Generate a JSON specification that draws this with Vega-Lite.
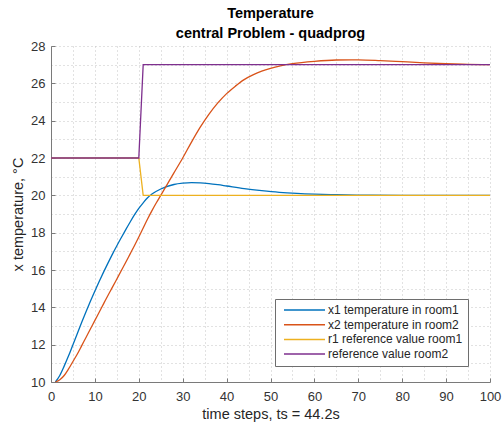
{
  "$schema": "https://vega.github.io/schema/vega-lite/v6.json",
  "width": 439,
  "height": 336,
  "autosize": {"type": "none"},
  "padding": {"left": 51, "top": 46, "right": 12, "bottom": 44},
  "background": "white",
  "config": {"view": {"stroke": null}, "font": "Liberation Sans"},
  "title": {
    "text": ["Temperature", "central Problem - quadprog"],
    "font": "Liberation Sans",
    "fontSize": 14.5,
    "fontWeight": "bold",
    "color": "#000000",
    "lineHeight": 19.5,
    "anchor": "middle",
    "frame": "group",
    "baseline": "bottom",
    "offset": -15
  },
  "data": {
    "values": [
      {"t": 1, "v": 10.0, "s": "x1 temperature in room1"},
      {"t": 2, "v": 10.35, "s": "x1 temperature in room1"},
      {"t": 3, "v": 10.85, "s": "x1 temperature in room1"},
      {"t": 4, "v": 11.4, "s": "x1 temperature in room1"},
      {"t": 5, "v": 12.0, "s": "x1 temperature in room1"},
      {"t": 6, "v": 12.6, "s": "x1 temperature in room1"},
      {"t": 7, "v": 13.2, "s": "x1 temperature in room1"},
      {"t": 8, "v": 13.78, "s": "x1 temperature in room1"},
      {"t": 9, "v": 14.34, "s": "x1 temperature in room1"},
      {"t": 10, "v": 14.88, "s": "x1 temperature in room1"},
      {"t": 11, "v": 15.4, "s": "x1 temperature in room1"},
      {"t": 12, "v": 15.9, "s": "x1 temperature in room1"},
      {"t": 13, "v": 16.38, "s": "x1 temperature in room1"},
      {"t": 14, "v": 16.85, "s": "x1 temperature in room1"},
      {"t": 15, "v": 17.3, "s": "x1 temperature in room1"},
      {"t": 16, "v": 17.73, "s": "x1 temperature in room1"},
      {"t": 17, "v": 18.15, "s": "x1 temperature in room1"},
      {"t": 18, "v": 18.56, "s": "x1 temperature in room1"},
      {"t": 19, "v": 18.95, "s": "x1 temperature in room1"},
      {"t": 20, "v": 19.3, "s": "x1 temperature in room1"},
      {"t": 21, "v": 19.6, "s": "x1 temperature in room1"},
      {"t": 22, "v": 19.87, "s": "x1 temperature in room1"},
      {"t": 23, "v": 20.07, "s": "x1 temperature in room1"},
      {"t": 24, "v": 20.22, "s": "x1 temperature in room1"},
      {"t": 25, "v": 20.34, "s": "x1 temperature in room1"},
      {"t": 26, "v": 20.44, "s": "x1 temperature in room1"},
      {"t": 28, "v": 20.58, "s": "x1 temperature in room1"},
      {"t": 30, "v": 20.65, "s": "x1 temperature in room1"},
      {"t": 32, "v": 20.68, "s": "x1 temperature in room1"},
      {"t": 34, "v": 20.67, "s": "x1 temperature in room1"},
      {"t": 36, "v": 20.63, "s": "x1 temperature in room1"},
      {"t": 38, "v": 20.57, "s": "x1 temperature in room1"},
      {"t": 40, "v": 20.5, "s": "x1 temperature in room1"},
      {"t": 44, "v": 20.36, "s": "x1 temperature in room1"},
      {"t": 48, "v": 20.25, "s": "x1 temperature in room1"},
      {"t": 52, "v": 20.16, "s": "x1 temperature in room1"},
      {"t": 56, "v": 20.1, "s": "x1 temperature in room1"},
      {"t": 60, "v": 20.06, "s": "x1 temperature in room1"},
      {"t": 65, "v": 20.03, "s": "x1 temperature in room1"},
      {"t": 70, "v": 20.01, "s": "x1 temperature in room1"},
      {"t": 80, "v": 20.0, "s": "x1 temperature in room1"},
      {"t": 90, "v": 20.0, "s": "x1 temperature in room1"},
      {"t": 100, "v": 20.0, "s": "x1 temperature in room1"},

      {"t": 1, "v": 10.0, "s": "x2 temperature in room2"},
      {"t": 2, "v": 10.12, "s": "x2 temperature in room2"},
      {"t": 3, "v": 10.35, "s": "x2 temperature in room2"},
      {"t": 4, "v": 10.7, "s": "x2 temperature in room2"},
      {"t": 5, "v": 11.1, "s": "x2 temperature in room2"},
      {"t": 6, "v": 11.5, "s": "x2 temperature in room2"},
      {"t": 7, "v": 11.95, "s": "x2 temperature in room2"},
      {"t": 8, "v": 12.4, "s": "x2 temperature in room2"},
      {"t": 9, "v": 12.85, "s": "x2 temperature in room2"},
      {"t": 10, "v": 13.3, "s": "x2 temperature in room2"},
      {"t": 11, "v": 13.75, "s": "x2 temperature in room2"},
      {"t": 12, "v": 14.2, "s": "x2 temperature in room2"},
      {"t": 13, "v": 14.65, "s": "x2 temperature in room2"},
      {"t": 14, "v": 15.08, "s": "x2 temperature in room2"},
      {"t": 15, "v": 15.52, "s": "x2 temperature in room2"},
      {"t": 16, "v": 15.96, "s": "x2 temperature in room2"},
      {"t": 17, "v": 16.4, "s": "x2 temperature in room2"},
      {"t": 18, "v": 16.85, "s": "x2 temperature in room2"},
      {"t": 19, "v": 17.3, "s": "x2 temperature in room2"},
      {"t": 20, "v": 17.77, "s": "x2 temperature in room2"},
      {"t": 21, "v": 18.25, "s": "x2 temperature in room2"},
      {"t": 22, "v": 18.73, "s": "x2 temperature in room2"},
      {"t": 23, "v": 19.18, "s": "x2 temperature in room2"},
      {"t": 24, "v": 19.6, "s": "x2 temperature in room2"},
      {"t": 25, "v": 20.0, "s": "x2 temperature in room2"},
      {"t": 26, "v": 20.4, "s": "x2 temperature in room2"},
      {"t": 27, "v": 20.8, "s": "x2 temperature in room2"},
      {"t": 28, "v": 21.2, "s": "x2 temperature in room2"},
      {"t": 30, "v": 22.0, "s": "x2 temperature in room2"},
      {"t": 32, "v": 22.85, "s": "x2 temperature in room2"},
      {"t": 34, "v": 23.65, "s": "x2 temperature in room2"},
      {"t": 36, "v": 24.35, "s": "x2 temperature in room2"},
      {"t": 38, "v": 24.95, "s": "x2 temperature in room2"},
      {"t": 40, "v": 25.45, "s": "x2 temperature in room2"},
      {"t": 42, "v": 25.85, "s": "x2 temperature in room2"},
      {"t": 44, "v": 26.2, "s": "x2 temperature in room2"},
      {"t": 46, "v": 26.45, "s": "x2 temperature in room2"},
      {"t": 48, "v": 26.65, "s": "x2 temperature in room2"},
      {"t": 50, "v": 26.8, "s": "x2 temperature in room2"},
      {"t": 55, "v": 27.05, "s": "x2 temperature in room2"},
      {"t": 60, "v": 27.18, "s": "x2 temperature in room2"},
      {"t": 65, "v": 27.25, "s": "x2 temperature in room2"},
      {"t": 70, "v": 27.26, "s": "x2 temperature in room2"},
      {"t": 75, "v": 27.22, "s": "x2 temperature in room2"},
      {"t": 80, "v": 27.16, "s": "x2 temperature in room2"},
      {"t": 85, "v": 27.1, "s": "x2 temperature in room2"},
      {"t": 90, "v": 27.05, "s": "x2 temperature in room2"},
      {"t": 95, "v": 27.02, "s": "x2 temperature in room2"},
      {"t": 100, "v": 27.0, "s": "x2 temperature in room2"},

      {"t": 0, "v": 22, "s": "r1 reference value room1"},
      {"t": 20, "v": 22, "s": "r1 reference value room1"},
      {"t": 21, "v": 20, "s": "r1 reference value room1"},
      {"t": 100, "v": 20, "s": "r1 reference value room1"},

      {"t": 0, "v": 22, "s": "reference value room2"},
      {"t": 20, "v": 22, "s": "reference value room2"},
      {"t": 21, "v": 27, "s": "reference value room2"},
      {"t": 100, "v": 27, "s": "reference value room2"}
    ]
  },
  "encoding": {
    "x": {
      "field": "t",
      "type": "quantitative",
      "scale": {"domain": [0, 100], "nice": false, "zero": false},
      "axis": {
        "values": [0, 5, 10, 15, 20, 25, 30, 35, 40, 45, 50, 55, 60, 65, 70, 75, 80, 85, 90, 95, 100],
        "labelExpr": "datum.value % 10 == 0 ? datum.label : ''",
        "tickOpacity": {"condition": {"test": "datum.value % 10 != 0", "value": 0}, "value": 1},
        "grid": true,
        "gridColor": "#c4c4c4",
        "gridDash": [1, 3],
        "gridWidth": 1,
        "domainColor": "#7a7a7a",
        "tickColor": "#7a7a7a",
        "tickSize": -4,
        "labelFont": "Liberation Sans",
        "labelFontSize": 13,
        "labelColor": "#333333",
        "labelPadding": 12,
        "labelFlush": false,
        "labelOverlap": false,
        "labelBound": false,
        "title": "time steps, ts = 44.2s",
        "titleFont": "Liberation Sans",
        "titleFontSize": 14.5,
        "titleFontWeight": "normal",
        "titleColor": "#262626",
        "titlePadding": 4
      }
    },
    "y": {
      "field": "v",
      "type": "quantitative",
      "scale": {"domain": [10, 28], "nice": false, "zero": false},
      "axis": {
        "values": [10, 11, 12, 13, 14, 15, 16, 17, 18, 19, 20, 21, 22, 23, 24, 25, 26, 27, 28],
        "labelExpr": "datum.value % 2 == 0 ? datum.label : ''",
        "tickOpacity": {"condition": {"test": "datum.value % 2 != 0", "value": 0}, "value": 1},
        "grid": true,
        "gridColor": "#c4c4c4",
        "gridDash": [1, 3],
        "gridWidth": 1,
        "domainColor": "#7a7a7a",
        "tickColor": "#7a7a7a",
        "tickSize": -4,
        "labelFont": "Liberation Sans",
        "labelFontSize": 13,
        "labelColor": "#333333",
        "labelPadding": 10,
        "labelFlush": false,
        "labelOverlap": false,
        "labelBound": false,
        "title": "x temperature, °C",
        "titleFont": "Liberation Sans",
        "titleFontSize": 14.5,
        "titleFontWeight": "normal",
        "titleColor": "#262626",
        "titlePadding": 5
      }
    },
    "color": {
      "field": "s",
      "type": "nominal",
      "scale": {
        "domain": ["x1 temperature in room1", "x2 temperature in room2", "r1 reference value room1", "reference value room2"],
        "range": ["#0072BD", "#D95319", "#EDB120", "#7E2F8E"]
      },
      "legend": {
        "orient": "none",
        "legendX": 224,
        "legendY": 253,
        "title": null,
        "direction": "vertical",
        "fillColor": "white",
        "strokeColor": "#6e6e6e",
        "padding": 5,
        "symbolType": "M-1,0H7.2",
        "symbolSize": 100,
        "symbolStrokeWidth": 1.5,
        "symbolOffset": 3,
        "labelOffset": 33,
        "labelFont": "Liberation Sans",
        "labelFontSize": 12,
        "labelColor": "#262626",
        "labelBaseline": "middle",
        "rowPadding": 2.7,
        "labelLimit": 300
      }
    }
  },
  "layer": [
    {
      "transform": [{"filter": {"field": "s", "oneOf": ["x1 temperature in room1", "x2 temperature in room2"]}}],
      "mark": {"type": "line", "interpolate": "monotone", "strokeWidth": 1.3}
    },
    {
      "transform": [{"filter": {"field": "s", "oneOf": ["r1 reference value room1", "reference value room2"]}}],
      "mark": {"type": "line", "strokeWidth": 1.3}
    }
  ]
}
